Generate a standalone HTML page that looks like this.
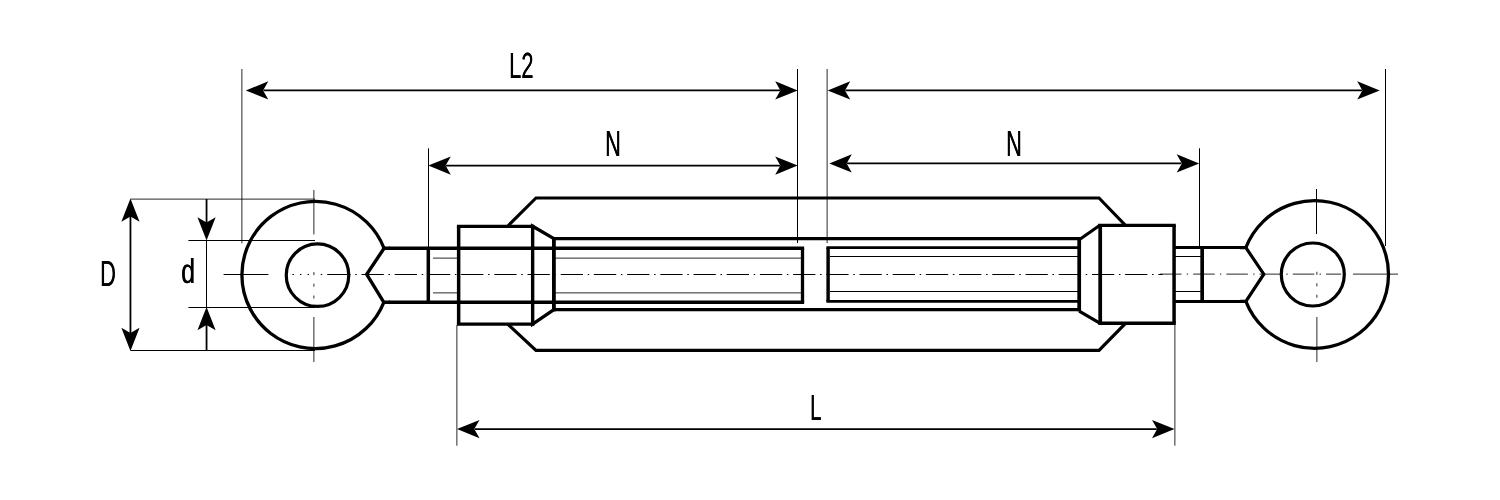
<!DOCTYPE html>
<html><head><meta charset="utf-8"><title>Turnbuckle eye-eye dimension drawing</title>
<style>
html,body{margin:0;padding:0;background:#fff;}
body{width:1500px;height:500px;overflow:hidden;font-family:"Liberation Sans",sans-serif;}
svg{display:block}
#wrap{position:relative;width:1500px;height:500px;filter:grayscale(1)}
.lbl{position:absolute;font-family:"Liberation Sans",sans-serif;font-size:36.4px;line-height:1;color:#000;white-space:nowrap;transform:scaleX(0.6);transform-origin:0 0;text-shadow:0.55px 0 0 #000;text-rendering:geometricPrecision}
</style></head><body><div id="wrap">
<svg width="1500" height="500" viewBox="0 0 1500 500">
<rect width="1500" height="500" fill="#fff"/>
<line x1="241.89" y1="69" x2="241.89" y2="243.4" stroke="#000" stroke-width="0.84" />
<line x1="797.5" y1="69" x2="797.5" y2="243" stroke="#000" stroke-width="1.05" />
<line x1="827.11" y1="69" x2="827.11" y2="243" stroke="#000" stroke-width="0.84" />
<line x1="1385.5" y1="69" x2="1385.5" y2="246" stroke="#000" stroke-width="1.05" />
<line x1="428.5" y1="148.3" x2="428.5" y2="248" stroke="#000" stroke-width="1.05" />
<line x1="1199.5" y1="148.3" x2="1199.5" y2="247" stroke="#000" stroke-width="1.05" />
<line x1="456.89" y1="325" x2="456.89" y2="445.7" stroke="#000" stroke-width="0.84" />
<line x1="1174.89" y1="324" x2="1174.89" y2="445.7" stroke="#000" stroke-width="0.84" />
<line x1="130.5" y1="199.11" x2="315" y2="199.11" stroke="#000" stroke-width="0.84" />
<line x1="130.5" y1="350.5" x2="315" y2="350.5" stroke="#000" stroke-width="1.05" />
<line x1="188.4" y1="240.5" x2="315" y2="240.5" stroke="#000" stroke-width="1.05" />
<line x1="188.4" y1="307.5" x2="315" y2="307.5" stroke="#000" stroke-width="1.05" />
<line x1="206.5" y1="240" x2="206.5" y2="307.5" stroke="#000" stroke-width="1.05" />
<line x1="263.5" y1="90.45" x2="780" y2="90.45" stroke="#000" stroke-width="1.8" />
<path d="M245.80 90.45L268.30 81.35L263.10 90.45L268.30 99.55Z" fill="#000"/>
<path d="M797.70 90.45L775.20 99.55L780.40 90.45L775.20 81.35Z" fill="#000"/>
<line x1="845.4" y1="90.45" x2="1362" y2="90.45" stroke="#000" stroke-width="1.8" />
<path d="M827.70 90.45L850.20 81.35L845.00 90.45L850.20 99.55Z" fill="#000"/>
<path d="M1379.70 90.45L1357.20 99.55L1362.40 90.45L1357.20 81.35Z" fill="#000"/>
<line x1="446" y1="165.55" x2="780" y2="165.55" stroke="#000" stroke-width="1.8" />
<path d="M428.30 165.55L450.80 156.45L445.60 165.55L450.80 174.65Z" fill="#000"/>
<path d="M797.70 165.55L775.20 174.65L780.40 165.55L775.20 156.45Z" fill="#000"/>
<line x1="847" y1="163.45" x2="1181.5" y2="163.45" stroke="#000" stroke-width="1.8" />
<path d="M829.30 163.45L851.80 154.35L846.60 163.45L851.80 172.55Z" fill="#000"/>
<path d="M1199.20 163.45L1176.70 172.55L1181.90 163.45L1176.70 154.35Z" fill="#000"/>
<line x1="474.7" y1="429.05" x2="1156.8" y2="429.05" stroke="#000" stroke-width="1.8" />
<path d="M457.00 429.05L479.50 419.95L474.30 429.05L479.50 438.15Z" fill="#000"/>
<path d="M1174.50 429.05L1152.00 438.15L1157.20 429.05L1152.00 419.95Z" fill="#000"/>
<line x1="130.45" y1="216" x2="130.45" y2="333" stroke="#000" stroke-width="1.8" />
<path d="M130.45 198.60L139.55 221.70L130.45 216.50L121.35 221.70Z" fill="#000"/>
<path d="M130.45 350.90L121.35 327.80L130.45 333.00L139.55 327.80Z" fill="#000"/>
<line x1="206.55" y1="199" x2="206.55" y2="223" stroke="#000" stroke-width="1.8" />
<path d="M206.55 240.45L197.45 217.35L206.55 222.55L215.65 217.35Z" fill="#000"/>
<line x1="206.55" y1="350.5" x2="206.55" y2="324" stroke="#000" stroke-width="1.8" />
<path d="M206.55 307.05L215.65 330.15L206.55 324.95L197.45 330.15Z" fill="#000"/>
<line x1="223.6" y1="274.47" x2="268.4" y2="274.47" stroke="#000" stroke-width="1.05" />
<line x1="327.2" y1="274.47" x2="329" y2="274.47" stroke="#000" stroke-width="1.05" />
<line x1="292.45" y1="274.47" x2="293.95" y2="274.47" stroke="#000" stroke-width="1" />
<line x1="299.95" y1="274.47" x2="301.45" y2="274.47" stroke="#000" stroke-width="1" />
<line x1="307.55" y1="274.47" x2="309.05" y2="274.47" stroke="#000" stroke-width="1" />
<line x1="320.75" y1="274.47" x2="322.25" y2="274.47" stroke="#000" stroke-width="1" />
<line x1="328.3" y1="274.47" x2="1162.7" y2="274.47" stroke="#000" stroke-width="1.05" stroke-dasharray="22.3 4.7 1.5 4.7"/>
<line x1="1160" y1="274.11" x2="1341.2" y2="274.11" stroke="#000" stroke-width="0.84" stroke-dasharray="21.5 5.2 1.5 5"/>
<line x1="1353" y1="274.11" x2="1398" y2="274.11" stroke="#000" stroke-width="0.84" />
<line x1="313.89" y1="190" x2="313.89" y2="234.4" stroke="#000" stroke-width="0.84" />
<line x1="313.89" y1="317" x2="313.89" y2="362" stroke="#000" stroke-width="0.84" />
<line x1="313.89" y1="272.1" x2="313.89" y2="275.1" stroke="#000" stroke-width="0.84" />
<line x1="313.89" y1="283.7" x2="313.89" y2="286.7" stroke="#000" stroke-width="0.84" />
<line x1="313.89" y1="295.5" x2="313.89" y2="298.5" stroke="#000" stroke-width="0.84" />
<line x1="1316.5" y1="189" x2="1316.5" y2="234" stroke="#000" stroke-width="1.05" />
<line x1="1316.89" y1="317" x2="1316.89" y2="362" stroke="#000" stroke-width="0.84" />
<line x1="1316.89" y1="271.8" x2="1316.89" y2="274.8" stroke="#000" stroke-width="0.84" />
<line x1="1316.89" y1="283.3" x2="1316.89" y2="286.3" stroke="#000" stroke-width="0.84" />
<line x1="1316.89" y1="294.7" x2="1316.89" y2="297.7" stroke="#000" stroke-width="0.84" />
<line x1="433" y1="258.12" x2="458" y2="258.12" stroke="#000" stroke-width="0.84" />
<line x1="554" y1="258.12" x2="802" y2="258.12" stroke="#000" stroke-width="0.84" />
<line x1="433" y1="292.89" x2="458" y2="292.89" stroke="#000" stroke-width="0.84" />
<line x1="554" y1="292.89" x2="802" y2="292.89" stroke="#000" stroke-width="0.84" />
<line x1="830" y1="256.5" x2="1079" y2="256.5" stroke="#000" stroke-width="1.05" />
<line x1="1175" y1="256.5" x2="1201" y2="256.5" stroke="#000" stroke-width="1.05" />
<line x1="830" y1="291.5" x2="1079" y2="291.5" stroke="#000" stroke-width="1.05" />
<line x1="1175" y1="291.5" x2="1201" y2="291.5" stroke="#000" stroke-width="1.05" />
<path d="M384.09 248.3A73.6 73.6 0 1 0 383.85 302.3" stroke="#000" stroke-width="3.3" fill="none" />
<path d="M390.09 248.3L384.09 248.3L366.7 274.3L383.85 302.3L389.85 302.3" stroke="#000" stroke-width="3.4" fill="none" stroke-linejoin="miter"/>
<circle cx="317.5" cy="275.2" r="31.25" fill="none" stroke="#000" stroke-width="3.2"/>
<line x1="389.0862231063936" y1="248.3" x2="804.15" y2="248.3" stroke="#000" stroke-width="3.4" />
<line x1="388.84961594625094" y1="302.3" x2="804.15" y2="302.3" stroke="#000" stroke-width="3.4" />
<line x1="802.5" y1="248.3" x2="802.5" y2="302.3" stroke="#000" stroke-width="3.3" />
<line x1="428.3" y1="248.3" x2="428.3" y2="302.3" stroke="#000" stroke-width="3.5" />
<line x1="456.9" y1="226.3" x2="534.4" y2="226.3" stroke="#000" stroke-width="3.3" />
<line x1="456.9" y1="324.1" x2="534.4" y2="324.1" stroke="#000" stroke-width="3.3" />
<line x1="458.65" y1="226.3" x2="458.65" y2="324.1" stroke="#000" stroke-width="3.5" />
<path d="M553.9 238.65L532.65 226.3V324.1L553.9 309.7" stroke="#000" stroke-width="3.4" fill="none" stroke-linejoin="miter" stroke-miterlimit="10"/>
<line x1="553.9" y1="237.0" x2="553.9" y2="311.34999999999997" stroke="#000" stroke-width="3.8" />
<line x1="553.9" y1="238.65" x2="1079.2" y2="238.65" stroke="#000" stroke-width="3.3" />
<line x1="553.9" y1="309.7" x2="1079.2" y2="309.7" stroke="#000" stroke-width="3.3" />
<path d="M508 225.8L536 198.0H1099L1125 224.8" stroke="#000" stroke-width="3.1" fill="none" stroke-linejoin="miter"/>
<path d="M508 324.4L536 350.4H1099L1125 323.8" stroke="#000" stroke-width="3.25" fill="none" stroke-linejoin="miter"/>
<line x1="1098.3" y1="225.35" x2="1175.8" y2="225.35" stroke="#000" stroke-width="3.2" />
<line x1="1098.3" y1="323.25" x2="1175.8" y2="323.25" stroke="#000" stroke-width="3.3" />
<line x1="1174.07" y1="225.35" x2="1174.07" y2="323.25" stroke="#000" stroke-width="3.5" />
<line x1="1100.2" y1="225.35" x2="1100.2" y2="323.25" stroke="#000" stroke-width="3.75" />
<line x1="1079.2" y1="239.8" x2="1100.2" y2="224.95" stroke="#000" stroke-width="3.1" />
<line x1="1079.2" y1="311.2" x2="1100.2" y2="323.3" stroke="#000" stroke-width="3.2" />
<line x1="1079.2" y1="237.0" x2="1079.2" y2="311.34999999999997" stroke="#000" stroke-width="3.75" />
<line x1="826.4" y1="247.6" x2="1079.2" y2="247.6" stroke="#000" stroke-width="2.9" />
<line x1="826.4" y1="301.4" x2="1079.2" y2="301.4" stroke="#000" stroke-width="2.9" />
<line x1="828.1" y1="247.6" x2="828.1" y2="301.4" stroke="#000" stroke-width="3.45" />
<path d="M1245.85 247.6A73.85 73.85 0 1 1 1245.89 301.4" stroke="#000" stroke-width="3.3" fill="none" />
<path d="M1239.85 247.6L1245.85 247.6L1263.8 274.2L1245.89 301.4L1239.89 301.4" stroke="#000" stroke-width="3.2" fill="none" stroke-linejoin="miter"/>
<line x1="1174.07" y1="247.6" x2="1240.8539245305374" y2="247.6" stroke="#000" stroke-width="3.0" />
<line x1="1174.07" y1="301.4" x2="1240.8539245305374" y2="301.4" stroke="#000" stroke-width="3.0" />
<circle cx="1312.8" cy="274.5" r="31.5" fill="none" stroke="#000" stroke-width="3.2"/>
<line x1="1202.15" y1="247.6" x2="1202.15" y2="301.4" stroke="#000" stroke-width="3.65" />
</svg>
<div class="lbl" style="left:100.0px;top:255.79px">D</div>
<div class="lbl" style="left:180.7px;top:254.88px;font-size:34.4px;transform:scaleX(0.72)">d</div>
<div class="lbl" style="left:509.4px;top:48.39px">L2</div>
<div class="lbl" style="left:605px;top:126.19px">N</div>
<div class="lbl" style="left:1006.2px;top:126.19px">N</div>
<div class="lbl" style="left:810.0px;top:390.19px;transform:scaleX(0.56)">L</div>
</div></body></html>
